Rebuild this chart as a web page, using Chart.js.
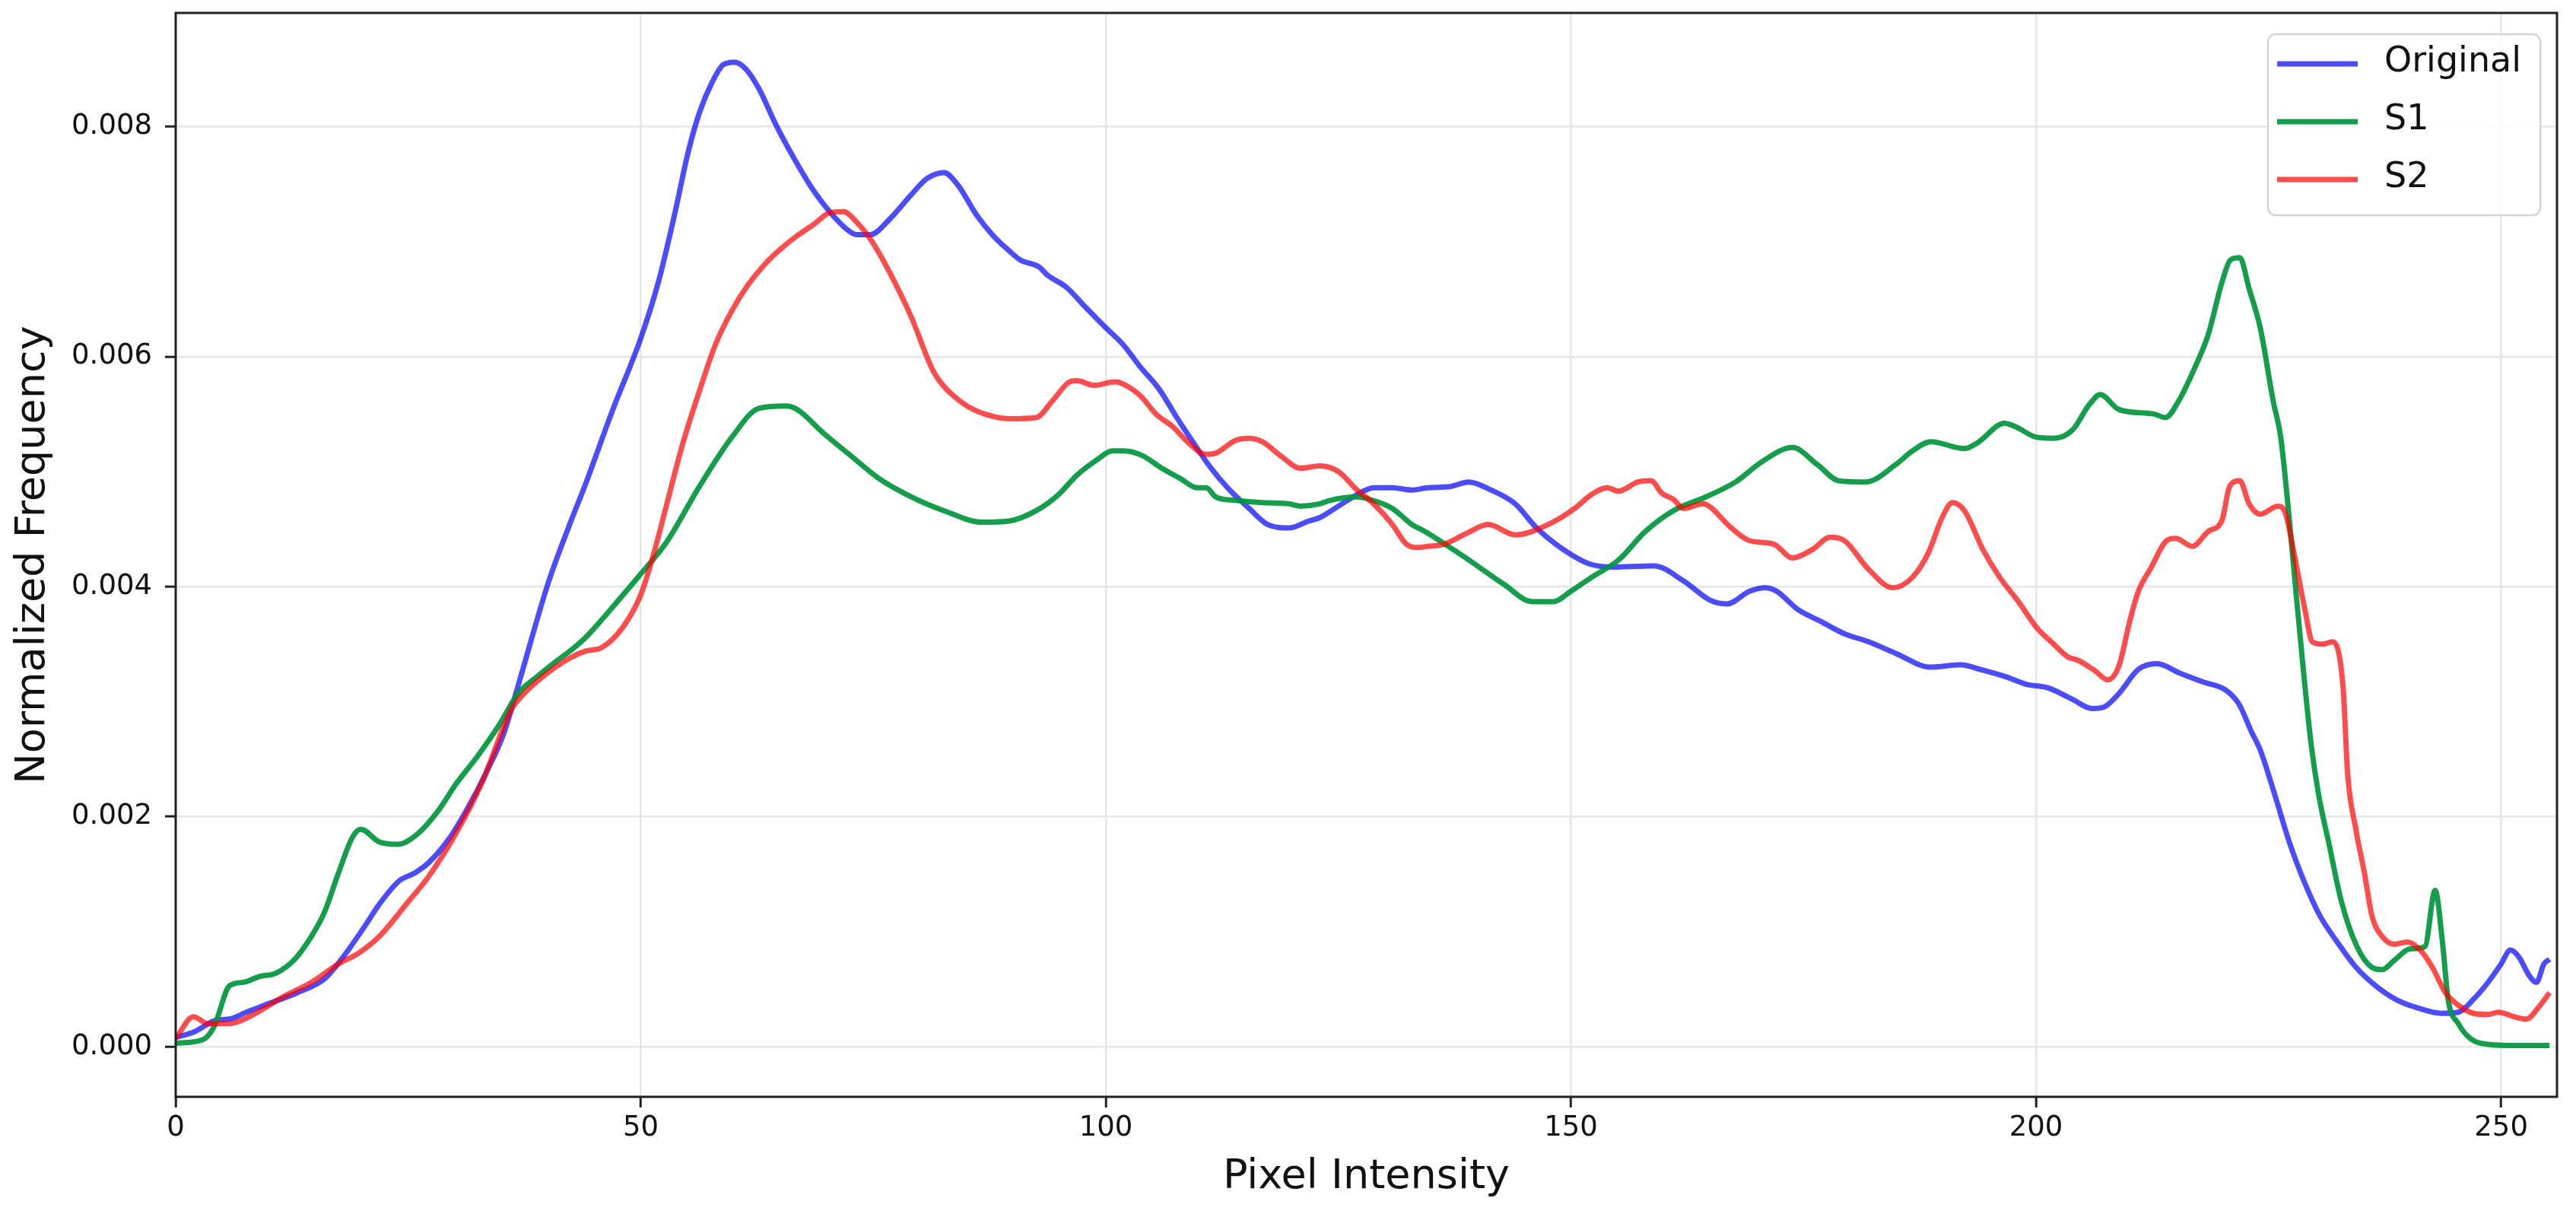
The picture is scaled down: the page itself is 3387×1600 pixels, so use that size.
<!DOCTYPE html>
<html>
<head>
<meta charset="utf-8">
<title>Pixel Intensity Histogram</title>
<script src="https://cdn.jsdelivr.net/npm/chart.js@4.4.1/dist/chart.umd.min.js"></script>
<style>
  html, body { margin: 0; padding: 0; background: #fff; }
  canvas { display: block; }
</style>
</head>
<body>
<canvas id="histChart" width="3387" height="1600"></canvas>
<script>
// values
var seriesNames = ["Original", "S1", "S2"];
var xTicks = [0, 50, 100, 150, 200, 250];
var yTicks = [0, 0.002, 0.004, 0.006, 0.008];

var originalX = [0, 2, 4.4, 5.8, 7.6, 10.2, 13.1, 16, 18, 20.1, 21.9, 24, 25.7, 27.2, 29.5, 31.3, 33.3, 35.3, 37.1, 40, 42.4, 44.1, 46.9,
  50, 51.9, 53.7, 55.1, 56.3, 57.7, 58.9, 60.1, 61.3, 62.7, 64.5, 66.5, 68.6, 70.3, 72.1, 73.2, 74.7, 76.7, 79.1, 80.8, 82.6, 84.1, 86.1, 87.9, 89.6,
  90.8, 92.8, 93.7, 95.8, 97.8, 100, 101.9, 103.7, 105.7, 107.7, 109.5, 111.3, 113.3, 115.4, 117.4, 119.7, 121.8, 123, 125, 127, 128.8, 130.8, 132.9, 134.6,
  137, 139, 141.4, 144, 146.3, 148.7, 151.9, 154.5, 158.9, 162.1, 165, 166.8, 169.2, 170.9, 172.1, 174.4, 176.8, 179.4,
  182, 184.9, 188.7, 191.9, 194, 196.6, 199, 201.3, 203.9, 206, 207.2, 208.9, 211, 213, 215.4, 218, 220.4, 221.8, 223.2, 224.1,
  225.7, 227.3, 228.9, 230.5, 232.2, 234.4, 236.5, 238.7, 240.9, 243.6, 245.4, 247, 248.6, 250, 251, 251.9, 253, 253.8, 254.6, 255.2];
var originalY = [0.00008, 0.00013, 0.00023, 0.00024, 0.00030, 0.00038, 0.00047, 0.00059, 0.00078, 0.00102, 0.00124, 0.00144, 0.00151, 0.00160, 0.00182, 0.00206, 0.00237, 0.00273, 0.00322, 0.00402, 0.00455, 0.00490, 0.00552,
  0.00616, 0.00665, 0.00726, 0.00778, 0.00812, 0.00839, 0.00854, 0.00856, 0.00850, 0.00833, 0.00802, 0.00772, 0.00744, 0.00726, 0.00711, 0.00706, 0.00706, 0.00719, 0.00741, 0.00755, 0.00760, 0.00749, 0.00723, 0.00705, 0.00692,
  0.00684, 0.00678, 0.00671, 0.00660, 0.00643, 0.00625, 0.00610, 0.00591, 0.00572, 0.00546, 0.00524, 0.00503, 0.00484, 0.00468, 0.00454, 0.00451, 0.00457, 0.00460, 0.00470, 0.00480, 0.00486, 0.00486, 0.00484, 0.00486,
  0.00487, 0.00491, 0.00484, 0.00472, 0.00451, 0.00435, 0.00420, 0.00417, 0.00418, 0.00405, 0.00388, 0.00385, 0.00396, 0.00399, 0.00396, 0.00380, 0.00370, 0.00359,
  0.00352, 0.00342, 0.00330, 0.00332, 0.00328, 0.00322, 0.00315, 0.00312, 0.00302, 0.00294, 0.00295, 0.00307, 0.00328, 0.00333, 0.00325, 0.00317, 0.00310, 0.00298, 0.00273, 0.00258,
  0.00218, 0.00176, 0.00142, 0.00114, 0.00093, 0.00069, 0.00053, 0.00041, 0.00034, 0.00029, 0.00030, 0.00041, 0.00056, 0.00072, 0.00084, 0.00078, 0.00062, 0.00056, 0.00072, 0.00076];

var s1X = [0, 2.9, 4.1, 5.8, 7.3, 9, 10.8, 12.8, 14.6, 16, 17.5, 19, 19.9, 21.9, 23.9, 26, 28.3, 30.1, 32.4, 34.8, 36.8, 38.9, 40.9, 42.7, 44.1, 47.8,
  50, 52.8, 56.3, 59.8, 62.7, 65.6, 66.8, 69.7, 72.7, 75.6, 79.1, 82.6, 86.7, 89.6,
  92.5, 94.9, 96.9, 99, 100.7, 101.9, 103.9, 106, 108, 109.8, 110.8, 111.8, 113.9, 116.8, 119.7, 120.9, 123, 124.1, 127, 128.3, 130.8, 132.9, 134.3,
  138.5, 142.8, 145.8, 148.1, 150, 152.2, 155.1, 158, 161, 164.5, 167.7, 170.6, 173.8, 176.5, 178.8,
  181.7, 184.9, 186.7, 188.7, 192.3, 193.7, 196.6, 197.8, 200, 201.9, 203.9, 205.7, 206.9, 208.9, 212.7, 213.9, 215.3, 217.1, 218.5, 220, 220.9, 221.9, 222.9, 224.1,
  225.5, 226.3, 227.1, 228, 228.8, 229.6, 230.4, 231.5, 232.8, 234.5, 236.1, 237.2, 238.5, 240.2, 241.8, 242.9, 243.7, 244.3, 245.4, 246.7, 248.6, 251.4, 255.2];
var s1Y = [0.00003, 0.00006, 0.00017, 0.00053, 0.00056, 0.00061, 0.00064, 0.00076, 0.00096, 0.00117, 0.00151, 0.00182, 0.00189, 0.00178, 0.00176, 0.00185, 0.00206, 0.00228, 0.00252, 0.00280, 0.00307, 0.00322, 0.00335, 0.00346, 0.00356, 0.00390,
  0.00411, 0.00439, 0.00487, 0.00530, 0.00555, 0.00557, 0.00554, 0.00533, 0.00513, 0.00494, 0.00478, 0.00466, 0.00456, 0.00457,
  0.00466, 0.00480, 0.00497, 0.00510, 0.00518, 0.00518, 0.00514, 0.00503, 0.00494, 0.00486, 0.00486, 0.00478, 0.00475, 0.00473, 0.00472, 0.00470, 0.00472, 0.00475, 0.00478, 0.00476, 0.00468, 0.00454, 0.00448,
  0.00426, 0.00402, 0.00387, 0.00387, 0.00396, 0.00408, 0.00423, 0.00448, 0.00466, 0.00478, 0.00491, 0.00509, 0.00521, 0.00506, 0.00492,
  0.00491, 0.00506, 0.00518, 0.00526, 0.00520, 0.00525, 0.00542, 0.00539, 0.00530, 0.00529, 0.00536, 0.00558, 0.00567, 0.00554, 0.00550, 0.00547, 0.00561, 0.00591, 0.00619, 0.00665, 0.00684, 0.00686, 0.00659, 0.00625,
  0.00561, 0.00530, 0.00469, 0.00390, 0.00322, 0.00261, 0.00218, 0.00176, 0.00127, 0.00087, 0.00069, 0.00067, 0.00075, 0.00085, 0.00087, 0.00136, 0.00090, 0.00041, 0.00020, 0.00007, 0.00002, 0.00001, 0.00001];

var s2X = [0, 1.9, 3.5, 5.8, 7.9, 11.7, 14.6, 17.5, 19.6, 21.9, 24.8, 27.2, 30.1, 33, 36, 37.1, 39.5, 42.4, 44.1, 45.8, 48.1,
  50, 51.3, 52.8, 54.5, 56.3, 58, 59.8, 61.5, 63.3, 65.1, 66.8, 68.6, 70.3, 71.8, 73.2, 74.7, 76.7, 79.1, 81.4, 82.6, 84.9, 87, 89.6,
  92.5, 94.3, 96.1, 96.9, 98.7, 101, 101.9, 103.7, 105.4, 107.2, 108.9, 110.7, 111.8, 113.9, 115.4, 116.8, 118.9, 120.9, 123, 125, 127, 128.8, 130.8, 132.3, 133.5, 134.6,
  136.4, 138.7, 141.1, 144, 147.8, 150.4, 152.2, 153.9, 155.1, 157.2, 158.6, 159.8, 161, 162.1, 164.2, 165, 167.1, 169.2, 171.8, 173.8, 175.9, 177.9, 179.4,
  182, 184.6, 186.7, 188.4, 189.9, 191, 192.3, 194.3, 196.1, 198.1, 200, 201.9, 203.4, 204.5, 206.3, 207.7, 208.9, 210.1, 211, 212.4, 213.9, 215, 216.8, 218.5, 220, 220.8, 221.9, 222.9, 224.1,
  226, 226.8, 227.8, 228.9, 229.7, 230.8, 231.9, 233, 233.5, 234.4, 235.3, 236.1, 237.2, 238.5, 239.9, 241.3, 242.6, 244, 245.4, 247, 248.6, 249.7, 251.4, 252.7, 254.1, 255.2];
var s2Y = [0.00007, 0.00026, 0.00020, 0.00020, 0.00026, 0.00044, 0.00056, 0.00072, 0.00081, 0.00096, 0.00124, 0.00148, 0.00185, 0.00231, 0.00292, 0.00304, 0.00322, 0.00338, 0.00344, 0.00347, 0.00365,
  0.00393, 0.00426, 0.00472, 0.00524, 0.00570, 0.00610, 0.00640, 0.00662, 0.00680, 0.00694, 0.00705, 0.00715, 0.00725, 0.00726, 0.00717, 0.00702, 0.00674, 0.00634, 0.00588, 0.00574, 0.00558, 0.00550, 0.00546,
  0.00547, 0.00562, 0.00578, 0.00579, 0.00575, 0.00578, 0.00576, 0.00566, 0.00550, 0.00539, 0.00525, 0.00515, 0.00516, 0.00527, 0.00529, 0.00526, 0.00513, 0.00503, 0.00505, 0.00500, 0.00484, 0.00472, 0.00454, 0.00437, 0.00434, 0.00435,
  0.00437, 0.00446, 0.00454, 0.00445, 0.00455, 0.00468, 0.00480, 0.00486, 0.00483, 0.00491, 0.00492, 0.00481, 0.00476, 0.00468, 0.00472, 0.00469, 0.00452, 0.00440, 0.00437, 0.00425, 0.00432, 0.00443, 0.00440,
  0.00415, 0.00399, 0.00408, 0.00429, 0.00460, 0.00473, 0.00466, 0.00432, 0.00408, 0.00387, 0.00365, 0.00350, 0.00339, 0.00336, 0.00327, 0.00319, 0.00331, 0.00371, 0.00396, 0.00417, 0.00439, 0.00442, 0.00435, 0.00448, 0.00458, 0.00487, 0.00492, 0.00472, 0.00463,
  0.00470, 0.00464, 0.00426, 0.00380, 0.00352, 0.00350, 0.00352, 0.00313, 0.00237, 0.00188, 0.00151, 0.00114, 0.00096, 0.00089, 0.00091, 0.00084, 0.00069, 0.00047, 0.00036, 0.00029, 0.00028, 0.00030, 0.00026, 0.00024, 0.00035, 0.00047];

var lineColors = ["rgba(0, 0, 255, 0.7)", "rgba(0, 150, 60, 0.92)", "rgba(255, 0, 0, 0.7)"];

function toPoints(xs, ys) {
  return xs.map(function (x, i) { return { x: x, y: ys[i] }; });
}

var font = "'DejaVu Sans', Verdana, sans-serif";

// white background, matplotlib-like box around the plot, legend in the corner
var frame = {
  id: "frame",
  beforeDraw: function (chart) {
    var ctx = chart.ctx;
    ctx.save();
    ctx.fillStyle = "#fff";
    ctx.fillRect(0, 0, chart.width, chart.height);
    ctx.restore();
  },
  afterDatasetsDraw: function (chart) {
    var a = chart.chartArea, ctx = chart.ctx;
    ctx.save();
    ctx.strokeStyle = "#222";
    ctx.lineWidth = 3;
    ctx.strokeRect(a.left, a.top, a.right - a.left, a.bottom - a.top);
    ctx.restore();
  },
  afterDraw: function (chart) {
    var a = chart.chartArea, ctx = chart.ctx;
    var w = 358, h = 238;
    var left = a.right - 22 - w, top = a.top + 28;
    ctx.save();
    ctx.beginPath();
    ctx.roundRect(left, top, w, h, 10);
    ctx.fillStyle = "rgba(255,255,255,0.8)";
    ctx.fill();
    ctx.strokeStyle = "#d4d4d4";
    ctx.lineWidth = 2.5;
    ctx.stroke();
    ctx.font = "46px " + font;
    ctx.textBaseline = "middle";
    chart.data.datasets.forEach(function (ds, i) {
      var y = top + 39 + i * 76;
      ctx.beginPath();
      ctx.moveTo(left + 12, y);
      ctx.lineTo(left + 118, y);
      ctx.strokeStyle = ds.borderColor;
      ctx.lineWidth = 7;
      ctx.stroke();
      ctx.fillStyle = "#111";
      ctx.fillText(ds.label, left + 153, y - 2);
    });
    ctx.restore();
  }
};

new Chart(document.getElementById("histChart"), {
  type: "line",
  data: {
    datasets: [
      { label: seriesNames[0], data: toPoints(originalX, originalY), borderColor: lineColors[0], order: 2 },
      { label: seriesNames[1], data: toPoints(s1X, s1Y), borderColor: lineColors[1], order: 1 },
      { label: seriesNames[2], data: toPoints(s2X, s2Y), borderColor: lineColors[2], order: 0 }
    ]
  },
  options: {
    responsive: false,
    animation: false,
    devicePixelRatio: 1,
    layout: { padding: { top: 17, right: 25, left: 0, bottom: 0 } },
    elements: {
      point: { radius: 0 },
      line: { borderWidth: 7, cubicInterpolationMode: "monotone", fill: false }
    },
    plugins: { legend: { display: false }, tooltip: { enabled: false } },
    scales: {
      x: {
        type: "linear",
        min: 0,
        max: 256,
        afterBuildTicks: function (scale) {
          scale.ticks = xTicks.map(function (v) { return { value: v }; });
        },
        afterFit: function (scale) {
          scale.height = 158;
          scale.paddingLeft = 0;
          scale.paddingRight = 0;
        },
        grid: { color: "#e6e6e6", lineWidth: 2.5, tickColor: "#222", tickWidth: 3, tickLength: 14 },
        border: { display: false },
        ticks: {
          maxRotation: 0,
          padding: 5,
          color: "#111",
          font: { family: font, size: 37 },
          callback: function (v) { return String(v); }
        },
        title: {
          display: true,
          text: "Pixel Intensity",
          color: "#111",
          font: { family: font, size: 54 },
          padding: { top: 0, bottom: 20 }
        }
      },
      y: {
        type: "linear",
        min: -0.000436,
        max: 0.008988,
        afterBuildTicks: function (scale) {
          scale.ticks = yTicks.map(function (v) { return { value: v }; });
        },
        afterFit: function (scale) {
          scale.width = 231;
          scale.paddingTop = 0;
          scale.paddingBottom = 0;
        },
        grid: { color: "#e6e6e6", lineWidth: 2.5, tickColor: "#222", tickWidth: 3, tickLength: 14 },
        border: { display: false },
        ticks: {
          padding: 17,
          color: "#111",
          font: { family: font, size: 37 },
          callback: function (v) { return v.toFixed(3); }
        },
        title: {
          display: true,
          text: "Normalized Frequency",
          color: "#111",
          font: { family: font, size: 54 },
          padding: { top: 12, bottom: 0 }
        }
      }
    }
  },
  plugins: [frame]
});
</script>
</body>
</html>
